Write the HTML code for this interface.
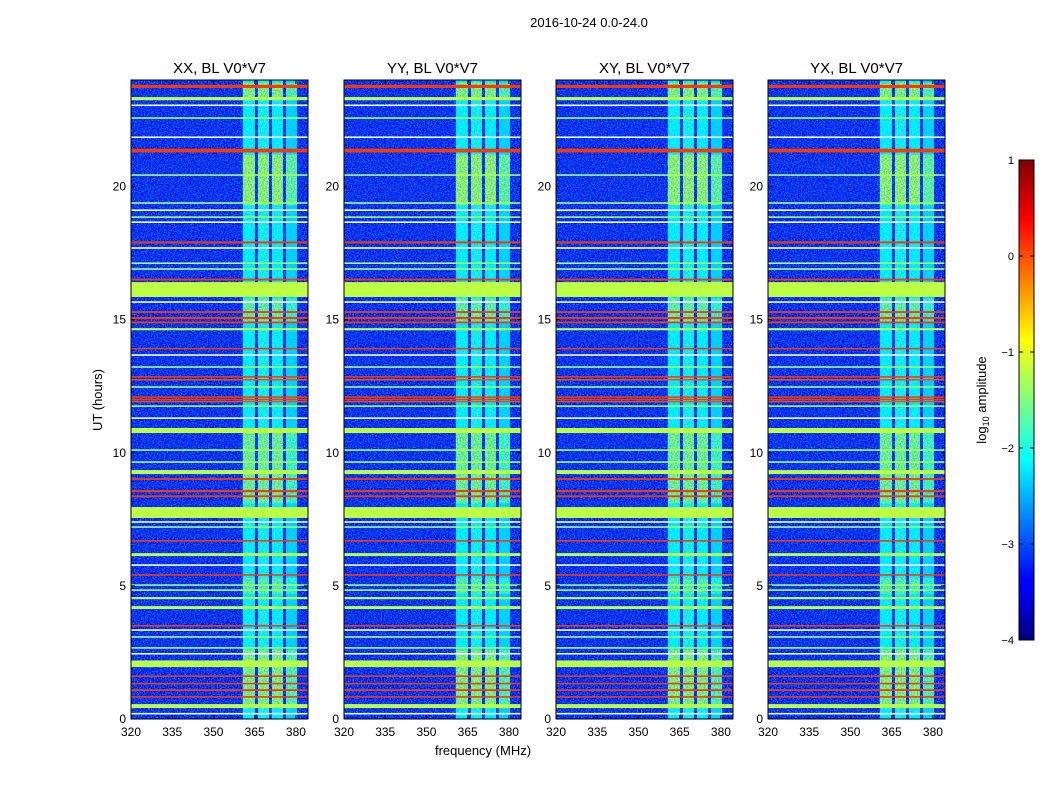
<!DOCTYPE html>
<html><head><meta charset="utf-8">
<style>
body{margin:0;background:#fff;font-family:"Liberation Sans",sans-serif;}
#root{position:relative;width:1050px;height:800px;overflow:hidden;background:#fff}
</style></head>
<body>
<div id="root">
<svg id="svg" width="1050" height="800" xmlns="http://www.w3.org/2000/svg">
<defs>
<linearGradient id="jet" x1="0" y1="1" x2="0" y2="0">
<stop offset="0" stop-color="#00007f"/><stop offset="0.11" stop-color="#0000ff"/>
<stop offset="0.125" stop-color="#0000ff"/><stop offset="0.375" stop-color="#00ffff"/>
<stop offset="0.625" stop-color="#ffff00"/><stop offset="0.875" stop-color="#ff0000"/>
<stop offset="1" stop-color="#7f0000"/>
</linearGradient>
<filter id="noise" x="0" y="0" width="100%" height="100%" filterUnits="objectBoundingBox">
<feTurbulence type="fractalNoise" baseFrequency="0.7" numOctaves="2" seed="3" result="n"/>
<feColorMatrix in="n" type="matrix" values="0 0 0 0 0  0 0 0 0 0.5  0 0 0 0 1  2.2 0 0 0 -0.75"/>
</filter>
</defs>
<text x="589" y="27" font-size="13" text-anchor="middle">2016-10-24 0.0-24.0</text>
<text x="102" y="400" font-size="13" text-anchor="middle" transform="rotate(-90 102 400)">UT (hours)</text>
<text x="483" y="755" font-size="13" text-anchor="middle">frequency (MHz)</text>
</svg>
</div>
<script>
// horizontal band data (hours) and log10 amplitude level
const bandStart=[23.7,23.24,21.28,17.86,16.47,15.85,15.25,15.02,14.86,14.6,13.88,12.82,12.71,12.06,11.98,11.9,10.74,9.2,8.98,8.52,8.33,7.55,6.66,6.12,5.38,4.5,4.13,3.47,1.95,1.58,1.3,1.05,0.8,0.41];
const bandEnd  =[23.82,23.36,21.42,17.94,16.54,16.41,15.32,15.1,14.93,14.68,13.94,12.88,12.77,12.12,12.03,11.95,10.93,9.35,9.05,8.6,8.4,7.96,6.72,6.23,5.44,4.58,4.24,3.53,2.2,1.64,1.36,1.12,0.86,0.56];
const bandLevel=[0.1,-1.2,0.1,0.1,0.1,-1.2,0.1,0.1,0.1,-1.2,0.1,0.1,0.0,0.1,0.1,0.0,-1.2,-1.2,0.1,0.1,0.1,-1.2,0.1,-1.2,0.1,-1.2,-1.2,0.1,-1.2,0.1,0.1,0.1,0.1,-1.2];
// thin green lines
const lineHours=[22.57,20.43,19.38,18.85,17.12,16.9,13.22,12.47,11.75,10.1,9.65,7.21,5.03,4.84,3.08,2.67];
// flagged (white) rows
const flagHours=[23.05,21.85,19.11,18.66,17.69,15.66,13.67,11.3,7.4,5.78,3.34,2.45,0.2];
// frequency columns (MHz) with level
const colStart=[360.7,366.2,371.3,376.4];
const colEnd  =[365.1,370.2,375.3,380.4];
const colLevel=[-2.1,-2.0,-2.1,-2.3];
// time ranges where the columns are brighter
const boostStart=[19.3,23.3,14.9,8.1,4.7,0.5];
const boostEnd  =[21.2,23.9,15.8,10.8,5.3,2.6];
const boostLevel=[-1.2,-1.3,-1.5,-1.4,-1.6,-1.3];
const bgLevel=-3.45;
const xTicks=[320,335,350,365,380];
const yTicks=[0,5,10,15,20];
const cbTicks=[1,0,-1,-2,-3,-4];
const panelTitles=["XX, BL V0*V7","YY, BL V0*V7","XY, BL V0*V7","YX, BL V0*V7"];
const panelX=[131,344,556,768];

const PW=177,PT=80,PB=719,F0=320,F1=384.4,H1=24;
function jet(v){let t=(v+4)/5;t=Math.max(0,Math.min(1,t));
 const c=x=>Math.round(255*Math.max(0,Math.min(1,x)));
 return `rgb(${c(1.5-Math.abs(4*t-3))},${c(1.5-Math.abs(4*t-2))},${c(1.5-Math.abs(4*t-1))})`;}
const svg=document.getElementById('svg');const NS='http://www.w3.org/2000/svg';
function mk(tag,attrs,parent){const e=document.createElementNS(NS,tag);for(const k in attrs)e.setAttribute(k,attrs[k]);(parent||svg).appendChild(e);return e;}
function yS(h){return PB-(h/H1)*(PB-PT);}
panelX.forEach((x0,p)=>{
 const g=mk('g',{});
 
 
 const xS=f=>x0+(f-F0)/(F1-F0)*PW;
 const bg=mk('rect',{x:x0,y:PT,width:PW,height:PB-PT,fill:jet(bgLevel)},g);
 
 colStart.forEach((c,i)=>{const r=mk('rect',{x:xS(c),y:PT,width:xS(colEnd[i])-xS(c),height:PB-PT,fill:jet(colLevel[i])},g);
  
  boostStart.forEach((b,j)=>{const rr=mk('rect',{x:xS(c),y:yS(boostEnd[j]),width:xS(colEnd[i])-xS(c),height:yS(b)-yS(boostEnd[j]),fill:jet(boostLevel[j]+(i==3?-0.3:0))},g);
   });});
 const nz=mk('rect',{x:x0,y:PT,width:PW,height:PB-PT,fill:'#000',filter:'url(#noise)',opacity:0.8},g);
 
 lineHours.forEach(h=>{const r=mk('rect',{x:x0,y:yS(h)-0.8,width:PW,height:1.6,fill:jet(-1.3)},g);
  });
 flagHours.forEach(h=>{const r=mk('rect',{x:x0,y:yS(h)-0.8,width:PW,height:1.6,fill:'#fff'},g);
  });
 bandStart.forEach((b,i)=>{const r=mk('rect',{x:x0,y:yS(bandEnd[i]),width:PW,height:Math.max(1.5,yS(b)-yS(bandEnd[i])),fill:jet(bandLevel[i])},g);
  });
 mk('rect',{x:x0,y:PT,width:PW,height:PB-PT,fill:'none',stroke:'#000','stroke-width':1},g);
 const t=mk('text',{x:x0+PW/2,y:73,'font-size':15,'text-anchor':'middle'},g);t.textContent=panelTitles[p];
 
 xTicks.forEach(f=>{const x=xS(f);mk('line',{x1:x,x2:x,y1:PB,y2:PB-4,stroke:'#000'},g);mk('line',{x1:x,x2:x,y1:PT,y2:PT+4,stroke:'#000'},g);
  const l=mk('text',{x:x,y:736,'font-size':12,'text-anchor':'middle'},g);l.textContent=f;
  });
 yTicks.forEach(h=>{const y=yS(h);mk('line',{x1:x0,x2:x0+4,y1:y,y2:y,stroke:'#000'},g);mk('line',{x1:x0+PW,x2:x0+PW-4,y1:y,y2:y,stroke:'#000'},g);
  const l=mk('text',{x:x0-5,y:y+4,'font-size':12,'text-anchor':'end'},g);l.textContent=h;
  });
});
// colorbar
const cb=mk('rect',{x:1019,y:160,width:15,height:480,fill:'url(#jet)',stroke:'#000','stroke-width':1});

cbTicks.forEach(v=>{const y=160+(1-v)*96;mk('line',{x1:1019,x2:1023,y1:y,y2:y,stroke:'#000'});mk('line',{x1:1034,x2:1030,y1:y,y2:y,stroke:'#000'});
 const l=mk('text',{x:1014,y:y+4,'font-size':11,'text-anchor':'end'});l.textContent=v<0?'\u2212'+(-v):v;
 });
const cl=mk('text',{x:986,y:400,'font-size':13,'text-anchor':'middle',transform:'rotate(-90 986 400)'});
cl.innerHTML='log<tspan font-size="9" dy="3">10</tspan><tspan dy="-3"> amplitude</tspan>';

</script>
</body></html>
